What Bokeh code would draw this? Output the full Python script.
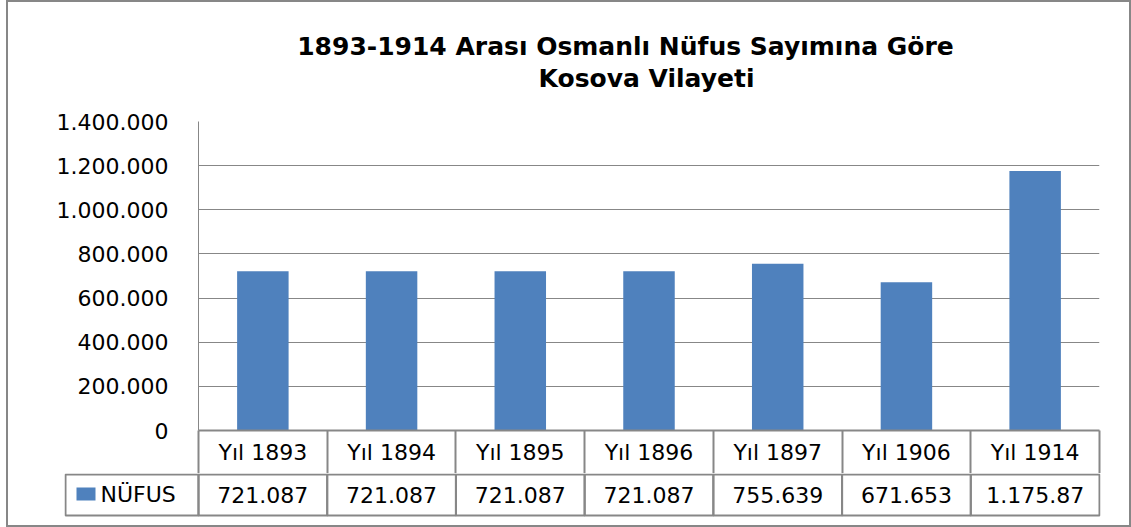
from bokeh.plotting import figure
from bokeh.layouts import column
from bokeh.models import (Range1d, FixedTicker, CustomJSTickFormatter, ColumnDataSource)
from bokeh.core.properties import value
from bokeh.embed import file_html
from bokeh.resources import INLINE

# ---- data ----
categories = ["Yıl 1893", "Yıl 1894", "Yıl 1895", "Yıl 1896", "Yıl 1897", "Yıl 1906", "Yıl 1914"]
nufus = [721087, 721087, 721087, 721087, 755639, 671653, 1175870]
series_name = "NÜFUS"
y_ticks = [0, 200000, 400000, 600000, 800000, 1000000, 1200000, 1400000]
title_lines = ["1893-1914 Arası Osmanlı Nüfus Sayımına Göre", "Kosova Vilayeti"]

BAR = "#4F81BD"
GRAY = "#878787"
FONT = "DejaVu Sans"
TFONT = "DejaVu Sans"
FS = "22px"
BORDER = "2px solid #878787"

def fmt(v):
    return f"{v:,}".replace(",", ".")

n = len(categories)
centers = [i + 0.5 for i in range(n)]
bounds = list(range(n + 1))

W = 1121                      # inner width of the chart box
HT, H1, H2 = 102, 369, 52     # title strip, chart (+ category row), value row
FL, FR = 190, 1091            # plot frame left / right (px)
CW = (FR - FL) / n            # px per category

def px2x(px):
    return (px - FL) / CW

# ---------------- title strip ----------------
pt = figure(width=W, height=HT, output_backend="svg", toolbar_location=None,
            x_range=Range1d(0, W), y_range=Range1d(HT, 0),
            x_axis_location=None, y_axis_location=None,
            min_border=0)
pt.outline_line_color = None
pt.grid.grid_line_color = None
pt.title.visible = False
pt.text(x=[617, 638], y=[44, 76], text=title_lines, text_font=value(TFONT),
        text_font_style="bold", text_font_size="25px", text_baseline="middle",
        text_align="center", text_color="#000000")

# ---------------- chart ----------------
p = figure(width=W, height=H1, output_backend="svg", toolbar_location=None,
           x_range=Range1d(0, n), y_range=Range1d(0, y_ticks[-1]),
           min_border_left=FL, min_border_right=W - FR, min_border_top=17, min_border_bottom=43)
p.outline_line_color = None
p.title.visible = False

src = ColumnDataSource(dict(x=centers, top=nufus))
p.vbar(x="x", top="top", width=0.4, source=src, fill_color=BAR, line_color=None)

yax = p.yaxis[0]
yax.ticker = FixedTicker(ticks=y_ticks)
yax.formatter = CustomJSTickFormatter(code="return tick.toFixed(0).replace(/\\B(?=(\\d{3})+(?!\\d))/g, '.')")
yax.major_tick_out = 0
yax.major_tick_in = 0
yax.minor_tick_line_color = None
yax.axis_line_color = GRAY
yax.major_label_standoff = 30
yax.major_label_text_font = FONT
yax.major_label_text_font_size = FS
yax.major_label_text_color = "#000000"

p.ygrid.ticker = FixedTicker(ticks=y_ticks[1:-1])
p.ygrid.grid_line_color = GRAY
p.xgrid.grid_line_color = None

# x axis = category row of the data table (minor ticks = cell separators)
xax = p.xaxis[0]
xax.ticker = FixedTicker(ticks=centers, minor_ticks=bounds)
xax.major_label_overrides = {c: cat for c, cat in zip(centers, categories)}
xax.major_tick_out = 0
xax.major_tick_in = 0
xax.minor_tick_in = 0
xax.minor_tick_out = 43
xax.minor_tick_line_color = GRAY
xax.minor_tick_line_width = 2
xax.axis_line_color = GRAY
xax.axis_line_width = 2
xax.major_label_standoff = -34
xax.major_label_text_font = FONT
xax.major_label_text_font_size = FS
xax.major_label_text_color = "#000000"

# ---------------- table value row ----------------
TL, TR = 56, 1092
p2 = figure(width=W, height=H2, output_backend="svg", toolbar_location=None,
            x_range=Range1d(px2x(TL), px2x(TR)), y_range=Range1d(43, -1),
            x_axis_location=None, y_axis_location=None,
            min_border_left=TL, min_border_right=W - TR, min_border_top=0, min_border_bottom=H2 - 44)
p2.outline_line_color = None
p2.grid.grid_line_color = None
p2.title.visible = False

cell_left = [px2x(57)] + bounds[:-1]
cell_right = [0] + bounds[1:]
p2.quad(left=cell_left, right=cell_right, top=[0] * (n + 1), bottom=[41] * (n + 1),
        fill_color=None, line_color=GRAY, line_width=2)
# legend key
p2.quad(left=[px2x(68)], right=[px2x(87)], top=[13], bottom=[26], fill_color=BAR, line_color=None)
p2.text(x=[px2x(92)], y=[20], text=[series_name], text_font=value(FONT), text_font_size=FS,
        text_baseline="middle", text_align="left", text_color="#000000")
vsrc = ColumnDataSource(dict(x=centers, val=[fmt(v)[:8] for v in nufus]))  # last cell clips
p2.text(x="x", y=20, text="val", source=vsrc, text_font=value(FONT), text_font_size=FS,
        text_baseline="middle", text_align="center", text_color="#000000")

top_box = column(pt, styles={"margin-left": "6px", "border": BORDER, "border-bottom": "none",
                             "display": "block"})
mid_box = column(p, styles={"margin-left": "6px", "border-left": BORDER, "border-right": BORDER,
                            "display": "block"})
bot_box = column(p2, styles={"margin-left": "6px", "border": BORDER, "border-top": "none",
                             "display": "block"})
open("out.html", "w").write(file_html([top_box, mid_box, bot_box], INLINE))
